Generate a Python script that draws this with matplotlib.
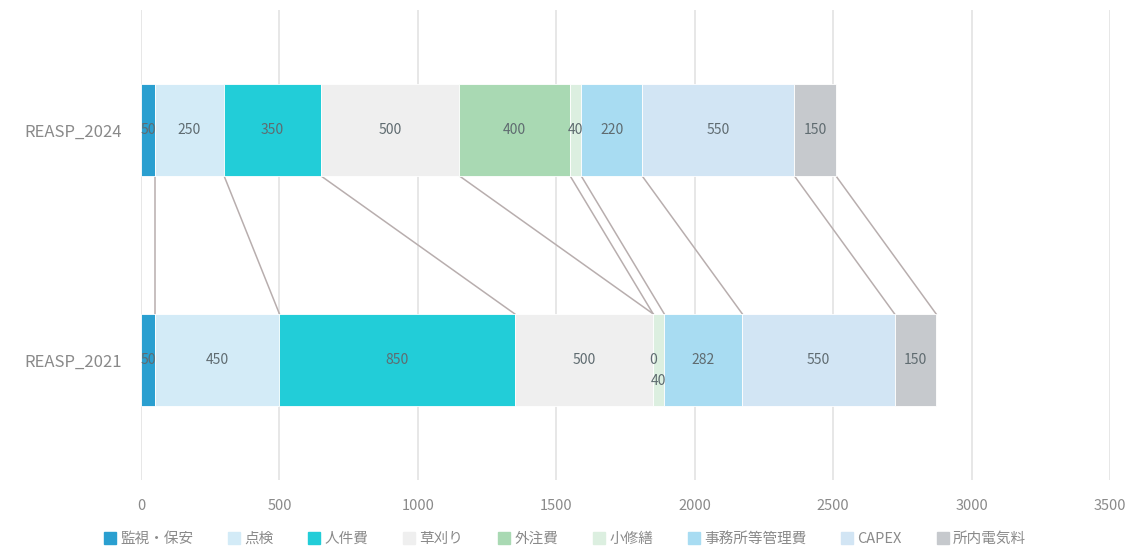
import matplotlib
matplotlib.use('Agg')
import matplotlib.pyplot as plt
import numpy as np

plt.rcParams['font.family'] = ['Noto Sans CJK JP', 'DejaVu Sans']

# data
years = ['REASP_2021', 'REASP_2024']
categories = ['監視・保安', '点検', '人件費', '草刈り', '外注費', '小修繕',
              '事務所等管理費', 'CAPEX', '所内電気料']
values_2021 = [50, 450, 850, 500, 0, 40, 282, 550, 150]
values_2024 = [50, 250, 350, 500, 400, 40, 220, 550, 150]
colors = ['#2a9fd0', '#d3ebf7', '#22cdd8', '#efefef', '#a9d9b3', '#dcefe0',
          '#a8dcf2', '#d2e5f4', '#c6c9cd']

fig = plt.figure(figsize=(11.3, 5.51), dpi=100)
ax = fig.add_axes([0.1248, 0.129, 0.8575, 0.853])

bar_h = 0.4
series = [values_2021, values_2024]
for yi, vals in enumerate(series):
    lefts = np.concatenate([[0], np.cumsum(vals)[:-1]])
    ax.barh([yi] * len(vals), vals, left=lefts, height=bar_h, color=colors,
            edgecolor='white', linewidth=0.6, zorder=3)
    prev_narrow = False
    for i, (l, v) in enumerate(zip(lefts, vals)):
        dy = 0
        # push overlapping labels of tiny neighbours down
        narrow = v < 60
        if narrow and prev_narrow:
            dy = -0.09
        prev_narrow = narrow
        ax.text(l + v / 2, yi + dy, str(v), ha='center', va='center',
                fontsize=10, color='#5f6b70', zorder=5)

# connecting lines between the cumulative boundaries of both bars
ends_2021 = np.cumsum(values_2021)
ends_2024 = np.cumsum(values_2024)
for a, b in zip(ends_2024, ends_2021):
    ax.plot([a, b], [1 - bar_h / 2, 0 + bar_h / 2], color='#b8aeae',
            linewidth=1.1, zorder=2)

ax.set_xlim(0, 3500)
ax.set_ylim(-0.5217, 1.5217)
ax.set_xticks(np.arange(0, 3501, 500))
ax.set_yticks([0, 1])
ax.set_yticklabels(years, fontsize=12)
ax.grid(axis='x', color='#e3e3e3', linewidth=1.2, zorder=0)
ax.set_axisbelow(True)
for s in ax.spines.values():
    s.set_visible(False)
ax.tick_params(axis='both', length=0, colors='#8a8a8a')
ax.tick_params(axis='x', pad=14, labelsize=10.5)
ax.tick_params(axis='y', pad=14)

handles = [plt.Rectangle((0, 0), 1, 1, color=c) for c in colors]
fig.legend(handles, categories, loc='lower center', ncol=9, frameon=False,
           fontsize=10.5, handlelength=0.8, handleheight=0.8, handletextpad=0.3,
           columnspacing=2.4, bbox_to_anchor=(0.5, -0.015),
           labelcolor='#8a8a8a')

fig.savefig('out.png', dpi=100)
